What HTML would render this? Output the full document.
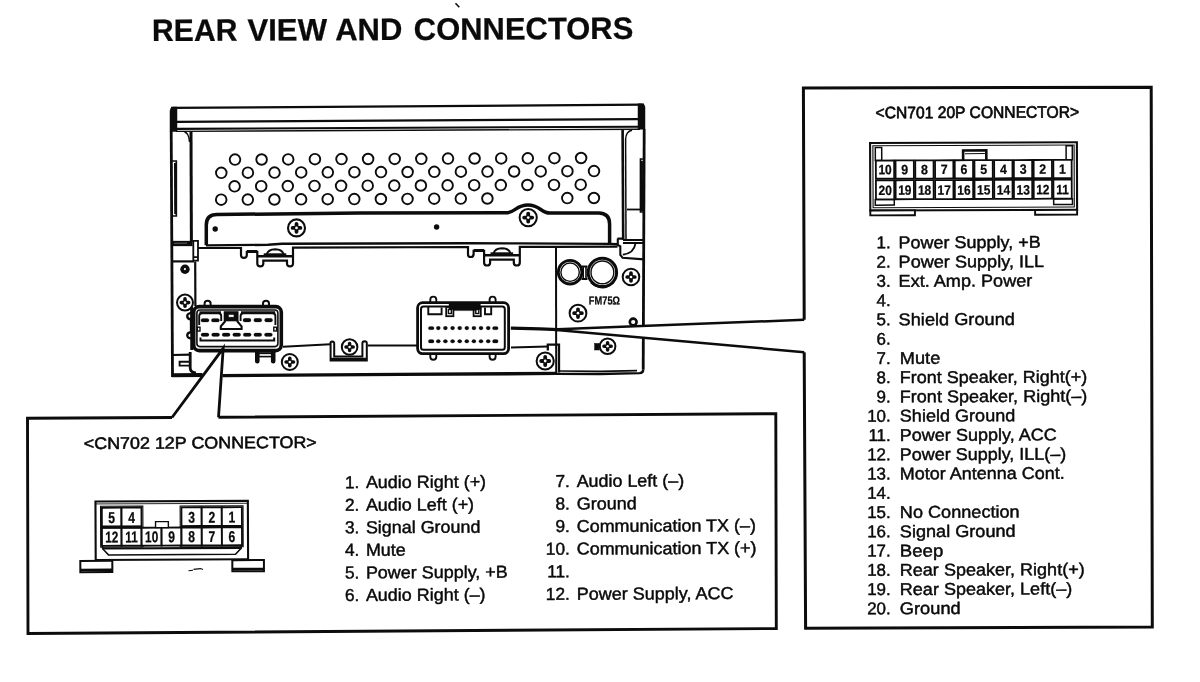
<!DOCTYPE html>
<html lang="en"><head><meta charset="utf-8"><title>Rear view and connectors</title>
<style>
html,body{margin:0;padding:0;background:#fff;}
body{width:1200px;height:682px;overflow:hidden;}
svg{display:block;will-change:transform;font-family:"Liberation Sans",sans-serif;}
svg text{fill:#0a0a0a;stroke:#0a0a0a;stroke-width:0.45px;stroke-linejoin:round;}
svg text.b{stroke-width:0.25px;}
</style></head><body>
<svg width="1200" height="682" viewBox="0 0 1200 682" stroke="#0c0c0c" fill="none" stroke-linecap="butt">
<rect x="0" y="0" width="1200" height="682" fill="#fff" stroke="none"/>
<text x="152.1" y="41.1" font-size="31" font-weight="bold" text-anchor="start" textLength="85.3" lengthAdjust="spacingAndGlyphs" class="b" transform="rotate(-0.27 152.1 41.1)" >REAR</text>
<text x="247.4" y="40.7" font-size="31" font-weight="bold" text-anchor="start" textLength="79.7" lengthAdjust="spacingAndGlyphs" class="b" transform="rotate(-0.27 247.4 40.7)" >VIEW</text>
<text x="335.2" y="40.3" font-size="31" font-weight="bold" text-anchor="start" textLength="67.3" lengthAdjust="spacingAndGlyphs" class="b" transform="rotate(-0.27 335.2 40.3)" >AND</text>
<text x="413.8" y="39.9" font-size="31" font-weight="bold" text-anchor="start" textLength="219.5" lengthAdjust="spacingAndGlyphs" class="b" transform="rotate(-0.27 413.8 39.9)" >CONNECTORS</text>
<line x1="455.5" y1="3.3" x2="459.3" y2="7.3" stroke-width="1.6" />
<g id="unit">
<line x1="171.0" y1="107.9" x2="644.0" y2="104.6" stroke-width="2.3" />
<line x1="176.0" y1="121.8" x2="638.0" y2="119.1" stroke-width="2.3" />
<line x1="176.0" y1="128.9" x2="638.0" y2="126.7" stroke-width="2.1" />
<line x1="176.0" y1="131.4" x2="640.0" y2="129.2" stroke-width="1.4" />
<path d="M170,131.5V111Q170,107.4 173.5,107H177V131.5Z" stroke-width="0.5" fill="#0c0c0c" />
<path d="M645,129.3V107.5Q645,104 641.5,103.8H638V129.3Z" stroke-width="0.5" fill="#0c0c0c" />
<line x1="171.2" y1="131.0" x2="172.5" y2="377.0" stroke-width="2.8" />
<line x1="644.2" y1="129.0" x2="643.2" y2="369.6" stroke-width="2.8" />
<line x1="191.0" y1="131.5" x2="191.4" y2="242.0" stroke-width="3.0" />
<path d="M184.5,132Q189,133 189.5,142" stroke-width="1.4" fill="none" />
<path d="M172,161H176.3V216H172" stroke-width="1.7" fill="none" />
<line x1="175.2" y1="163.0" x2="175.4" y2="214.0" stroke-width="2.4" />
<line x1="622.6" y1="129.5" x2="623.2" y2="240.0" stroke-width="2.6" />
<line x1="625.6" y1="139.0" x2="626.0" y2="240.0" stroke-width="1.5" />
<path d="M625.6,139Q626,131.5 632,130.3" stroke-width="1.4" fill="none" />
<path d="M644,159H640.5V212H644" stroke-width="1.7" fill="none" />
<line x1="641.7" y1="161.0" x2="641.9" y2="211.0" stroke-width="2.4" />
<line x1="627.0" y1="209.5" x2="640.5" y2="209.5" stroke-width="1.8" />
<circle cx="235.0" cy="159.6" r="5.3" stroke-width="1.9" fill="none"/>
<circle cx="261.6" cy="159.5" r="5.3" stroke-width="1.9" fill="none"/>
<circle cx="288.2" cy="159.4" r="5.3" stroke-width="1.9" fill="none"/>
<circle cx="314.9" cy="159.2" r="5.3" stroke-width="1.9" fill="none"/>
<circle cx="341.5" cy="159.1" r="5.3" stroke-width="1.9" fill="none"/>
<circle cx="368.1" cy="159.0" r="5.3" stroke-width="1.9" fill="none"/>
<circle cx="394.7" cy="158.9" r="5.3" stroke-width="1.9" fill="none"/>
<circle cx="421.3" cy="158.8" r="5.3" stroke-width="1.9" fill="none"/>
<circle cx="448.0" cy="158.6" r="5.3" stroke-width="1.9" fill="none"/>
<circle cx="474.6" cy="158.5" r="5.3" stroke-width="1.9" fill="none"/>
<circle cx="501.2" cy="158.4" r="5.3" stroke-width="1.9" fill="none"/>
<circle cx="527.8" cy="158.3" r="5.3" stroke-width="1.9" fill="none"/>
<circle cx="554.4" cy="158.2" r="5.3" stroke-width="1.9" fill="none"/>
<circle cx="581.1" cy="158.0" r="5.3" stroke-width="1.9" fill="none"/>
<circle cx="221.3" cy="172.8" r="5.3" stroke-width="1.9" fill="none"/>
<circle cx="247.9" cy="172.7" r="5.3" stroke-width="1.9" fill="none"/>
<circle cx="274.5" cy="172.6" r="5.3" stroke-width="1.9" fill="none"/>
<circle cx="301.2" cy="172.4" r="5.3" stroke-width="1.9" fill="none"/>
<circle cx="327.8" cy="172.3" r="5.3" stroke-width="1.9" fill="none"/>
<circle cx="354.4" cy="172.2" r="5.3" stroke-width="1.9" fill="none"/>
<circle cx="381.0" cy="172.1" r="5.3" stroke-width="1.9" fill="none"/>
<circle cx="407.6" cy="172.0" r="5.3" stroke-width="1.9" fill="none"/>
<circle cx="434.3" cy="171.8" r="5.3" stroke-width="1.9" fill="none"/>
<circle cx="460.9" cy="171.7" r="5.3" stroke-width="1.9" fill="none"/>
<circle cx="487.5" cy="171.6" r="5.3" stroke-width="1.9" fill="none"/>
<circle cx="514.1" cy="171.5" r="5.3" stroke-width="1.9" fill="none"/>
<circle cx="540.7" cy="171.4" r="5.3" stroke-width="1.9" fill="none"/>
<circle cx="567.4" cy="171.2" r="5.3" stroke-width="1.9" fill="none"/>
<circle cx="594.0" cy="171.1" r="5.3" stroke-width="1.9" fill="none"/>
<circle cx="234.6" cy="186.3" r="5.3" stroke-width="1.9" fill="none"/>
<circle cx="261.2" cy="186.2" r="5.3" stroke-width="1.9" fill="none"/>
<circle cx="287.8" cy="186.1" r="5.3" stroke-width="1.9" fill="none"/>
<circle cx="314.5" cy="185.9" r="5.3" stroke-width="1.9" fill="none"/>
<circle cx="341.1" cy="185.8" r="5.3" stroke-width="1.9" fill="none"/>
<circle cx="367.7" cy="185.7" r="5.3" stroke-width="1.9" fill="none"/>
<circle cx="394.3" cy="185.6" r="5.3" stroke-width="1.9" fill="none"/>
<circle cx="420.9" cy="185.5" r="5.3" stroke-width="1.9" fill="none"/>
<circle cx="447.6" cy="185.3" r="5.3" stroke-width="1.9" fill="none"/>
<circle cx="474.2" cy="185.2" r="5.3" stroke-width="1.9" fill="none"/>
<circle cx="500.8" cy="185.1" r="5.3" stroke-width="1.9" fill="none"/>
<circle cx="527.4" cy="185.0" r="5.3" stroke-width="1.9" fill="none"/>
<circle cx="554.0" cy="184.9" r="5.3" stroke-width="1.9" fill="none"/>
<circle cx="580.7" cy="184.7" r="5.3" stroke-width="1.9" fill="none"/>
<circle cx="221.2" cy="199.7" r="5.3" stroke-width="1.9" fill="none"/>
<circle cx="247.8" cy="199.6" r="5.3" stroke-width="1.9" fill="none"/>
<circle cx="274.4" cy="199.5" r="5.3" stroke-width="1.9" fill="none"/>
<circle cx="301.1" cy="199.3" r="5.3" stroke-width="1.9" fill="none"/>
<circle cx="327.7" cy="199.2" r="5.3" stroke-width="1.9" fill="none"/>
<circle cx="354.3" cy="199.1" r="5.3" stroke-width="1.9" fill="none"/>
<circle cx="380.9" cy="199.0" r="5.3" stroke-width="1.9" fill="none"/>
<circle cx="407.5" cy="198.9" r="5.3" stroke-width="1.9" fill="none"/>
<circle cx="434.2" cy="198.7" r="5.3" stroke-width="1.9" fill="none"/>
<circle cx="460.8" cy="198.6" r="5.3" stroke-width="1.9" fill="none"/>
<circle cx="487.4" cy="198.5" r="5.3" stroke-width="1.9" fill="none"/>
<circle cx="567.3" cy="198.1" r="5.3" stroke-width="1.9" fill="none"/>
<circle cx="593.9" cy="198.0" r="5.3" stroke-width="1.9" fill="none"/>
<path d="M206.3,245.2V225Q206.3,214.6 217,214.5L360,213.1L506,212.8C515,212.8 516,205 528,205C540,205 541,213.1 550,213.1L599,212.9Q609.5,213.1 609.6,224V243.5" stroke-width="3.5" fill="none" />
<path d="M206,245.4L268,244.8L282,243.8L468,243.3L519,243.4L609.6,243.9L618,244.2" stroke-width="2.4" fill="none" />
<path d="M198,248H241V255.29999999999998Q241.1,257.9 243.9,257.9Q246.7,257.9 246.8,255.29999999999998V251.8H257.3V263.79999999999995Q257.4,266.4 260.3,266.4Q263.2,266.4 263.3,263.79999999999995V260.6H287V263.79999999999995Q287.1,266.4 290,266.4Q292.9,266.4 293,263.79999999999995V247.7L468,247V254.4Q467.90000000000003,257.0 470.7,257.0Q473.5,257.0 473.6,254.4V250.9H484.1V262.9Q484.2,265.5 487.1,265.5Q490.0,265.5 490.1,262.9V259.70000000000005H513.8V262.9Q513.9,265.5 516.8,265.5Q519.7,265.5 519.8,262.9V246.8L556,246.9L617.5,246.6" stroke-width="2.2" fill="none" />
<line x1="257.3" y1="256.2" x2="293.0" y2="256.2" stroke-width="2.6" />
<line x1="263.7" y1="254.3" x2="286.3" y2="254.3" stroke-width="2.0" />
<path d="M266.7,254.4Q268,249.4 275.2,249.2Q282.4,249.4 283.7,254.4" stroke-width="2.0" fill="none" />
<line x1="247.0" y1="251.4" x2="257.2" y2="251.4" stroke-width="2.8" />
<line x1="484.1" y1="255.2" x2="519.8" y2="255.2" stroke-width="2.6" />
<line x1="490.5" y1="253.3" x2="513.1" y2="253.3" stroke-width="2.0" />
<path d="M493.5,253.4Q494.8,248.4 502.0,248.2Q509.2,248.4 510.5,253.4" stroke-width="2.0" fill="none" />
<line x1="473.8" y1="250.4" x2="484.0" y2="250.4" stroke-width="2.8" />
<circle cx="215.2" cy="229.0" r="2.7" stroke-width="0" fill="#0c0c0c"/>
<circle cx="436.6" cy="227.0" r="2.7" stroke-width="0" fill="#0c0c0c"/>
<circle cx="296.5" cy="227.9" r="8.5" stroke-width="2.1" fill="#fff"/>
<path d="M292.6,227.9H300.4M296.5,224.0V231.8" stroke-width="3.8" fill="none" stroke-linecap="round"/>
<circle cx="296.5" cy="227.9" r="1.36" stroke-width="0" fill="#fff"/>
<circle cx="528.2" cy="217.6" r="8.6" stroke-width="2.0" fill="#fff"/>
<path d="M524.2,217.6H532.2M528.2,213.6V221.6" stroke-width="3.84" fill="none" stroke-linecap="round"/>
<circle cx="528.2" cy="217.6" r="1.376" stroke-width="0" fill="#fff"/>
<path d="M171.5,241H192.4V246H171.5Z" stroke-width="0.3" fill="#0c0c0c" />
<line x1="174.0" y1="243.3" x2="187.0" y2="243.1" stroke-width="0.5" stroke="#bbb"/>
<path d="M193.3,257.4V240.8H198V260.6H193.3V257.2H197.6" stroke-width="1.8" fill="none" />
<line x1="172.0" y1="261.4" x2="194.0" y2="261.4" stroke-width="2.2" />
<line x1="195.2" y1="261.5" x2="195.4" y2="306.0" stroke-width="2.2" />
<circle cx="185.0" cy="269.3" r="4.7" stroke-width="0" fill="#0c0c0c"/>
<circle cx="184.9" cy="269.1" r="1.1" stroke-width="0" fill="#fff"/>
<circle cx="185.0" cy="302.6" r="8.0" stroke-width="2.0" fill="#fff"/>
<path d="M181.3,302.6H188.7M185.0,298.9V306.3" stroke-width="3.6" fill="none" stroke-linecap="round"/>
<circle cx="185.0" cy="302.6" r="1.28" stroke-width="0" fill="#fff"/>
<line x1="172.3" y1="355.0" x2="191.0" y2="354.6" stroke-width="2.2" />
<path d="M190.2,352V368Q190.4,372.5 196,373" stroke-width="2.8" fill="none" />
<path d="M190,361.7H179.6V365.6H190" stroke-width="1.9" fill="none" />
<line x1="283.0" y1="346.8" x2="330.5" y2="344.2" stroke-width="2.0" />
<line x1="367.5" y1="345.4" x2="417.0" y2="345.6" stroke-width="2.0" />
<line x1="511.0" y1="347.6" x2="548.0" y2="346.4" stroke-width="2.0" />
<line x1="556.0" y1="247.0" x2="556.2" y2="373.0" stroke-width="2.0" />
<path d="M617.5,238.6H623M617.8,238.6V245L620.3,246.3V254.8L622.6,257.8L644,259.4" stroke-width="2.1" fill="none" />
<path d="M623,240H644M623,243H644" stroke-width="2.1" fill="none" />
<path d="M635.5,243.4Q634,253.5 622.8,254.6" stroke-width="1.8" fill="none" />
<path d="M172,375.2L202.5,375.1" stroke-width="4.0" fill="none" />
<path d="M222.5,375.6L400,374.4L557,373.4" stroke-width="3.4" fill="none" />
<path d="M557,373.9L600,374L639.6,373.2Q643.2,373 643.3,369.4" stroke-width="2.3" fill="none" />
<path d="M559,371L600,371.4L637,370.6" stroke-width="1.7" fill="none" />
<circle cx="570.1" cy="272.2" r="11.8" stroke-width="2.8" fill="#fff"/>
<circle cx="570.1" cy="272.2" r="9.2" stroke-width="1.4" fill="none"/>
<path d="M581.5,266.5H587.5M581.5,279H587.5" stroke-width="2.2" fill="none" />
<path d="M583.2,266.5V279M586,266.5V279" stroke-width="1.6" fill="none" />
<circle cx="602.4" cy="272.4" r="14.2" stroke-width="3.0" fill="#fff"/>
<circle cx="602.4" cy="272.4" r="11.4" stroke-width="1.4" fill="none"/>
<path d="M591,282.6Q602.4,292.6 614,282" stroke-width="2.0" fill="none" />
<text x="588.8" y="304.6" font-size="11.6" font-weight="bold" text-anchor="start" textLength="31.2" lengthAdjust="spacingAndGlyphs" class="b" transform="rotate(-0.3 588.8 304.6)" >FM75Ω</text>
<circle cx="631.0" cy="277.0" r="8.3" stroke-width="2.0" fill="#fff"/>
<path d="M627.2,277.0H634.8M631.0,273.2V280.8" stroke-width="3.72" fill="none" stroke-linecap="round"/>
<circle cx="631.0" cy="277.0" r="1.328" stroke-width="0" fill="#fff"/>
<circle cx="578.0" cy="313.2" r="8.4" stroke-width="2.0" fill="#fff"/>
<path d="M574.1,313.2H581.9M578.0,309.3V317.1" stroke-width="3.76" fill="none" stroke-linecap="round"/>
<circle cx="578.0" cy="313.2" r="1.344" stroke-width="0" fill="#fff"/>
<circle cx="633.2" cy="322.0" r="3.4" stroke-width="2.6" fill="none"/>
<rect x="594.6" y="343.4" width="4.6" height="6.6" rx="0" stroke-width="0.5" fill="#0c0c0c"/>
<circle cx="607.6" cy="346.3" r="7.8" stroke-width="2.0" fill="#fff"/>
<path d="M604.0,346.3H611.2M607.6,342.7V349.9" stroke-width="3.52" fill="none" stroke-linecap="round"/>
<circle cx="607.6" cy="346.3" r="1.248" stroke-width="0" fill="#fff"/>
<path d="M547.8,350.5V344.6H559V372.5" stroke-width="2.3" fill="none" />
<circle cx="545.2" cy="361.0" r="8.6" stroke-width="2.0" fill="#fff"/>
<path d="M541.2,361.0H549.2M545.2,357.0V365.0" stroke-width="3.84" fill="none" stroke-linecap="round"/>
<circle cx="545.2" cy="361.0" r="1.376" stroke-width="0" fill="#fff"/>
<circle cx="289.8" cy="362.0" r="8.0" stroke-width="2.0" fill="#fff"/>
<path d="M286.1,362.0H293.5M289.8,358.3V365.7" stroke-width="3.6" fill="none" stroke-linecap="round"/>
<circle cx="289.8" cy="362.0" r="1.28" stroke-width="0" fill="#fff"/>
<path d="M330.6,343.6Q330,341.6 332.3,341.4Q334.4,341.6 334.2,343.6V356.6H362.4V343.4Q362.4,341.2 364.6,341.2Q366.9,341.3 366.8,343.4V360.4H330.6Z" stroke-width="2.0" fill="none" />
<line x1="331.0" y1="359.2" x2="366.5" y2="359.2" stroke-width="3.0" />
<circle cx="349.6" cy="347.0" r="7.8" stroke-width="2.0" fill="#fff"/>
<path d="M346.0,347.0H353.2M349.6,343.4V350.6" stroke-width="3.52" fill="none" stroke-linecap="round"/>
<circle cx="349.6" cy="347.0" r="1.248" stroke-width="0" fill="#fff"/>
<path d="M204.6,306.5V303.5Q204.6,300.8 207.6,300.8Q210.6,300.8 210.6,303.5V306.5" stroke-width="2.0" fill="none" />
<path d="M263,306.5V303.5Q263,300.8 266,300.8Q269,300.8 269,303.5V306.5" stroke-width="2.0" fill="none" />
<path d="M193,312.6Q187.2,313 187.2,316Q187.2,319.2 191,319.4V332.2Q187.2,332.6 187.2,335.4Q187.4,338.6 193,338.8" stroke-width="2.3" fill="none" />
<line x1="191.6" y1="307.0" x2="191.8" y2="350.0" stroke-width="3.0" />
<rect x="193.7" y="306.6" width="87.6" height="44.0" rx="5.5" stroke-width="3.6" fill="#fff"/>
<rect x="196.9" y="310.0" width="81.0" height="36.6" rx="3" stroke-width="1.6" fill="none"/>
<path d="M199.2,325V316Q199.2,313.2 202.2,313.2H218.4Q221.2,313.2 221.2,316V321" stroke-width="1.9" fill="none" />
<path d="M240.6,321V316Q240.6,313.2 243.6,313.2H272.4Q275.4,313.2 275.4,316V325" stroke-width="1.9" fill="none" />
<line x1="199.5" y1="312.4" x2="221.0" y2="312.4" stroke-width="2.2" />
<line x1="241.0" y1="312.4" x2="275.2" y2="312.4" stroke-width="2.2" />
<path d="M224,311.5H238.2V321H224Z" stroke-width="0.6" fill="#0c0c0c" />
<rect x="228.4" y="314.4" width="5.6" height="2.8" rx="0" stroke-width="0.6" fill="#fff"/>
<path d="M225.4,321L220.8,326.4V329H241.6V326.4L237,321" stroke-width="2.1" fill="none" />
<rect x="201.0" y="318.4" width="8.0" height="3.7" rx="1.7" stroke-width="0.2" fill="#0c0c0c"/>
<rect x="211.4" y="318.4" width="8.0" height="3.7" rx="1.7" stroke-width="0.2" fill="#0c0c0c"/>
<rect x="243.0" y="318.3" width="8.0" height="3.7" rx="1.7" stroke-width="0.2" fill="#0c0c0c"/>
<rect x="253.8" y="318.3" width="8.0" height="3.7" rx="1.7" stroke-width="0.2" fill="#0c0c0c"/>
<rect x="264.6" y="318.3" width="8.0" height="3.7" rx="1.7" stroke-width="0.2" fill="#0c0c0c"/>
<rect x="201.0" y="332.9" width="8.0" height="3.5" rx="1.7" stroke-width="0.2" fill="#0c0c0c"/>
<rect x="211.6" y="332.9" width="8.0" height="3.5" rx="1.7" stroke-width="0.2" fill="#0c0c0c"/>
<rect x="222.1" y="332.9" width="8.0" height="3.5" rx="1.7" stroke-width="0.2" fill="#0c0c0c"/>
<rect x="232.7" y="332.9" width="8.0" height="3.5" rx="1.7" stroke-width="0.2" fill="#0c0c0c"/>
<rect x="243.2" y="332.9" width="8.0" height="3.5" rx="1.7" stroke-width="0.2" fill="#0c0c0c"/>
<rect x="253.8" y="332.9" width="8.0" height="3.5" rx="1.7" stroke-width="0.2" fill="#0c0c0c"/>
<rect x="264.4" y="332.9" width="8.0" height="3.5" rx="1.7" stroke-width="0.2" fill="#0c0c0c"/>
<rect x="197.2" y="327.2" width="2.8" height="3.8" rx="0" stroke-width="1.4" fill="none"/>
<rect x="273.8" y="327.2" width="2.8" height="3.8" rx="0" stroke-width="1.4" fill="none"/>
<path d="M200.5,337.6V340.5H274.2V337.6" stroke-width="2.0" fill="none" />
<path d="M257.3,351.5V361.2M273.2,351.5V361.2" stroke-width="4.6" fill="none" stroke-linecap="round"/>
<path d="M259,353.2H271.4" stroke-width="1.9" fill="none" />
<path d="M259,356.6H271.4" stroke-width="1.6" fill="none" />
<path d="M430.3,303V299.6Q430.3,296.6 433.3,296.6Q436.3,296.6 436.3,299.6V303" stroke-width="1.9" fill="none" />
<path d="M430.3,353V356.8Q430.3,359.8 433.3,359.8Q436.3,359.8 436.3,356.8V353" stroke-width="1.9" fill="none" />
<path d="M489.6,303V299.6Q489.6,296.6 492.6,296.6Q495.6,296.6 495.6,299.6V303" stroke-width="1.9" fill="none" />
<path d="M489.6,353V356.8Q489.6,359.8 492.6,359.8Q495.6,359.8 495.6,356.8V353" stroke-width="1.9" fill="none" />
<rect x="417.6" y="302.7" width="91.0" height="50.9" rx="5" stroke-width="2.8" fill="#fff"/>
<rect x="421.0" y="306.6" width="83.8" height="43.2" rx="2.5" stroke-width="2.0" fill="none"/>
<path d="M428.3,307V314.2H441.6V307.4" stroke-width="1.9" fill="none" />
<path d="M485,307.4V314.2H491.2V307" stroke-width="1.9" fill="none" />
<rect x="446.2" y="307.0" width="7.2" height="9.2" rx="0" stroke-width="1.8" fill="none"/>
<rect x="473.6" y="307.0" width="7.2" height="9.2" rx="0" stroke-width="1.8" fill="none"/>
<rect x="448.4" y="309.5" width="3.0" height="4.0" rx="0" stroke-width="1.4" fill="none"/>
<rect x="475.8" y="309.5" width="3.0" height="4.0" rx="0" stroke-width="1.4" fill="none"/>
<path d="M449,303H480.4V309.4H476V310.6H453.4V309.4H449Z" stroke-width="0.4" fill="#0c0c0c" />
<rect x="428.4" y="326.4" width="5.6" height="3.4" rx="1.5" stroke-width="0.2" fill="#0c0c0c"/>
<rect x="436.2" y="326.3" width="4.2" height="3.6" rx="1.8" stroke-width="0.2" fill="#0c0c0c"/>
<rect x="443.3" y="326.3" width="4.2" height="3.6" rx="1.8" stroke-width="0.2" fill="#0c0c0c"/>
<rect x="450.5" y="326.3" width="4.2" height="3.6" rx="1.8" stroke-width="0.2" fill="#0c0c0c"/>
<rect x="457.6" y="326.3" width="4.2" height="3.6" rx="1.8" stroke-width="0.2" fill="#0c0c0c"/>
<rect x="464.7" y="326.3" width="4.2" height="3.6" rx="1.8" stroke-width="0.2" fill="#0c0c0c"/>
<rect x="471.8" y="326.3" width="4.2" height="3.6" rx="1.8" stroke-width="0.2" fill="#0c0c0c"/>
<rect x="478.9" y="326.3" width="4.2" height="3.6" rx="1.8" stroke-width="0.2" fill="#0c0c0c"/>
<rect x="486.1" y="326.3" width="4.2" height="3.6" rx="1.8" stroke-width="0.2" fill="#0c0c0c"/>
<rect x="492.5" y="326.4" width="5.6" height="3.4" rx="1.5" stroke-width="0.2" fill="#0c0c0c"/>
<rect x="428.4" y="339.6" width="5.6" height="3.4" rx="1.5" stroke-width="0.2" fill="#0c0c0c"/>
<rect x="436.2" y="339.5" width="4.2" height="3.6" rx="1.8" stroke-width="0.2" fill="#0c0c0c"/>
<rect x="443.3" y="339.5" width="4.2" height="3.6" rx="1.8" stroke-width="0.2" fill="#0c0c0c"/>
<rect x="450.5" y="339.5" width="4.2" height="3.6" rx="1.8" stroke-width="0.2" fill="#0c0c0c"/>
<rect x="457.6" y="339.5" width="4.2" height="3.6" rx="1.8" stroke-width="0.2" fill="#0c0c0c"/>
<rect x="464.7" y="339.5" width="4.2" height="3.6" rx="1.8" stroke-width="0.2" fill="#0c0c0c"/>
<rect x="471.8" y="339.5" width="4.2" height="3.6" rx="1.8" stroke-width="0.2" fill="#0c0c0c"/>
<rect x="478.9" y="339.5" width="4.2" height="3.6" rx="1.8" stroke-width="0.2" fill="#0c0c0c"/>
<rect x="486.1" y="339.5" width="4.2" height="3.6" rx="1.8" stroke-width="0.2" fill="#0c0c0c"/>
<rect x="492.5" y="339.6" width="5.6" height="3.4" rx="1.5" stroke-width="0.2" fill="#0c0c0c"/>
</g>
<path d="M172.0,417.5L223.2,348.3L218.5,417.4" stroke-width="2.8" fill="#fff" stroke-linejoin="miter"/>
<path d="M804.2,319.8L551,329.6L804.2,352.2" stroke-width="2.5" fill="#fff" stroke-linejoin="miter"/>
<path d="M510.8,328.1L540,328.9L558,329.7" stroke-width="3.3" fill="none" />
<path d="M172.0,417.5L27.5,418.3L28,633.5L776.3,628.5L775.8,413.6L218.5,417.3" stroke-width="2.9" fill="none" stroke-linejoin="miter"/>
<text x="83.8" y="449.0" font-size="16.6" font-weight="normal" text-anchor="start" textLength="233.0" lengthAdjust="spacingAndGlyphs" transform="rotate(-0.27 83.8 449.0)" style="stroke-width:0.55px">&lt;CN702 12P CONNECTOR&gt;</text>
<g transform="rotate(-0.25 172 535)">
<rect x="95.6" y="501.2" width="152.4" height="58.4" rx="0" stroke-width="2.1" fill="#fff"/>
<line x1="95.6" y1="503.6" x2="248.0" y2="503.6" stroke-width="0.9" />
<rect x="80.2" y="560.6" width="32.0" height="11.2" rx="0" stroke-width="2.0" fill="#fff"/>
<rect x="232.2" y="560.4" width="31.6" height="11.2" rx="0" stroke-width="2.0" fill="#fff"/>
<line x1="80.2" y1="569.6" x2="112.2" y2="569.6" stroke-width="2.6" />
<line x1="232.2" y1="569.4" x2="263.8" y2="569.4" stroke-width="2.6" />
<rect x="100.6" y="506.0" width="42.4" height="41.0" rx="0" stroke-width="1.0" fill="none"/>
<rect x="180.2" y="506.0" width="63.0" height="41.0" rx="0" stroke-width="1.0" fill="none"/>
<rect x="101.9" y="507.4" width="19.7" height="18.8" rx="0" stroke-width="1.9" fill="#fff"/>
<text x="0" y="522.8" font-size="15.6" font-weight="bold" class="b" text-anchor="middle" transform="translate(111.8 0) scale(0.78 1)">5</text>
<rect x="121.6" y="507.4" width="20.0" height="18.8" rx="0" stroke-width="1.9" fill="#fff"/>
<text x="0" y="522.8" font-size="15.6" font-weight="bold" class="b" text-anchor="middle" transform="translate(131.6 0) scale(0.78 1)">4</text>
<rect x="181.5" y="507.4" width="20.3" height="18.8" rx="0" stroke-width="1.9" fill="#fff"/>
<text x="0" y="522.8" font-size="15.6" font-weight="bold" class="b" text-anchor="middle" transform="translate(191.7 0) scale(0.78 1)">3</text>
<rect x="201.8" y="507.4" width="20.1" height="18.8" rx="0" stroke-width="1.9" fill="#fff"/>
<text x="0" y="522.8" font-size="15.6" font-weight="bold" class="b" text-anchor="middle" transform="translate(211.9 0) scale(0.78 1)">2</text>
<rect x="221.9" y="507.4" width="20.1" height="18.8" rx="0" stroke-width="1.9" fill="#fff"/>
<text x="0" y="522.8" font-size="15.6" font-weight="bold" class="b" text-anchor="middle" transform="translate(231.9 0) scale(0.78 1)">1</text>
<rect x="101.9" y="527.6" width="19.7" height="18.0" rx="0" stroke-width="1.9" fill="#fff"/>
<text x="0" y="542.2" font-size="15.6" font-weight="bold" class="b" text-anchor="middle" transform="translate(111.8 0) scale(0.76 1)">12</text>
<rect x="121.6" y="527.6" width="20.0" height="18.0" rx="0" stroke-width="1.9" fill="#fff"/>
<text x="0" y="542.2" font-size="15.6" font-weight="bold" class="b" text-anchor="middle" transform="translate(131.6 0) scale(0.76 1)">11</text>
<rect x="141.6" y="527.6" width="20.0" height="18.0" rx="0" stroke-width="1.9" fill="#fff"/>
<text x="0" y="542.2" font-size="15.6" font-weight="bold" class="b" text-anchor="middle" transform="translate(151.6 0) scale(0.76 1)">10</text>
<rect x="161.6" y="527.6" width="19.9" height="18.0" rx="0" stroke-width="1.9" fill="#fff"/>
<text x="0" y="542.2" font-size="15.6" font-weight="bold" class="b" text-anchor="middle" transform="translate(171.6 0) scale(0.78 1)">9</text>
<rect x="181.5" y="527.6" width="20.3" height="18.0" rx="0" stroke-width="1.9" fill="#fff"/>
<text x="0" y="542.2" font-size="15.6" font-weight="bold" class="b" text-anchor="middle" transform="translate(191.7 0) scale(0.78 1)">8</text>
<rect x="201.8" y="527.6" width="20.1" height="18.0" rx="0" stroke-width="1.9" fill="#fff"/>
<text x="0" y="542.2" font-size="15.6" font-weight="bold" class="b" text-anchor="middle" transform="translate(211.9 0) scale(0.78 1)">7</text>
<rect x="221.9" y="527.6" width="20.1" height="18.0" rx="0" stroke-width="1.9" fill="#fff"/>
<text x="0" y="542.2" font-size="15.6" font-weight="bold" class="b" text-anchor="middle" transform="translate(231.9 0) scale(0.78 1)">6</text>
<line x1="101.9" y1="526.9" x2="141.6" y2="526.9" stroke-width="2.4" />
<line x1="181.5" y1="526.9" x2="242.0" y2="526.9" stroke-width="2.4" />
<rect x="155.6" y="521.6" width="12.8" height="6.0" rx="0" stroke-width="1.4" fill="#fff"/>
<path d="M102.6,545.6V548.4L108.4,554.6H235.4L241.2,548.4V545.6" stroke-width="1.5" fill="none" />
<line x1="103.0" y1="548.2" x2="241.0" y2="548.2" stroke-width="2.2" />
</g>
<path d="M188.5,570.8L193,570.2M193.5,569.4L200.5,568.6L203,569.4" stroke-width="1.1" fill="none" />
<text x="359.4" y="488.1" font-size="17.3" font-weight="normal" text-anchor="end" transform="rotate(-0.27 359.4 488.1)" >1.</text>
<text x="365.9" y="488.1" font-size="17.3" font-weight="normal" text-anchor="start" textLength="120.2" lengthAdjust="spacingAndGlyphs" transform="rotate(-0.27 365.9 488.1)" >Audio Right (+)</text>
<text x="359.4" y="510.7" font-size="17.3" font-weight="normal" text-anchor="end" transform="rotate(-0.27 359.4 510.7)" >2.</text>
<text x="365.9" y="510.7" font-size="17.3" font-weight="normal" text-anchor="start" textLength="108.2" lengthAdjust="spacingAndGlyphs" transform="rotate(-0.27 365.9 510.7)" >Audio Left (+)</text>
<text x="359.4" y="533.2" font-size="17.3" font-weight="normal" text-anchor="end" transform="rotate(-0.27 359.4 533.2)" >3.</text>
<text x="365.9" y="533.2" font-size="17.3" font-weight="normal" text-anchor="start" textLength="114.5" lengthAdjust="spacingAndGlyphs" transform="rotate(-0.27 365.9 533.2)" >Signal Ground</text>
<text x="359.4" y="555.8" font-size="17.3" font-weight="normal" text-anchor="end" transform="rotate(-0.27 359.4 555.8)" >4.</text>
<text x="365.9" y="555.8" font-size="17.3" font-weight="normal" text-anchor="start" textLength="39.9" lengthAdjust="spacingAndGlyphs" transform="rotate(-0.27 365.9 555.8)" >Mute</text>
<text x="359.4" y="578.4" font-size="17.3" font-weight="normal" text-anchor="end" transform="rotate(-0.27 359.4 578.4)" >5.</text>
<text x="365.9" y="578.4" font-size="17.3" font-weight="normal" text-anchor="start" textLength="141.9" lengthAdjust="spacingAndGlyphs" transform="rotate(-0.27 365.9 578.4)" >Power Supply, +B</text>
<text x="359.4" y="601.0" font-size="17.3" font-weight="normal" text-anchor="end" transform="rotate(-0.27 359.4 601.0)" >6.</text>
<text x="365.9" y="600.9" font-size="17.3" font-weight="normal" text-anchor="start" textLength="119.7" lengthAdjust="spacingAndGlyphs" transform="rotate(-0.27 365.9 600.9)" >Audio Right (–)</text>
<text x="569.9" y="486.9" font-size="17.3" font-weight="normal" text-anchor="end" transform="rotate(-0.27 569.9 486.9)" >7.</text>
<text x="576.7" y="486.9" font-size="17.3" font-weight="normal" text-anchor="start" textLength="107.4" lengthAdjust="spacingAndGlyphs" transform="rotate(-0.27 576.7 486.9)" >Audio Left (–)</text>
<text x="569.9" y="509.5" font-size="17.3" font-weight="normal" text-anchor="end" transform="rotate(-0.27 569.9 509.5)" >8.</text>
<text x="576.7" y="509.5" font-size="17.3" font-weight="normal" text-anchor="start" textLength="60.1" lengthAdjust="spacingAndGlyphs" transform="rotate(-0.27 576.7 509.5)" >Ground</text>
<text x="569.9" y="532.0" font-size="17.3" font-weight="normal" text-anchor="end" transform="rotate(-0.27 569.9 532.0)" >9.</text>
<text x="576.7" y="532.0" font-size="17.3" font-weight="normal" text-anchor="start" textLength="179.2" lengthAdjust="spacingAndGlyphs" transform="rotate(-0.27 576.7 532.0)" >Communication TX (–)</text>
<text x="569.9" y="554.6" font-size="17.3" font-weight="normal" text-anchor="end" transform="rotate(-0.27 569.9 554.6)" >10.</text>
<text x="576.7" y="554.6" font-size="17.3" font-weight="normal" text-anchor="start" textLength="179.9" lengthAdjust="spacingAndGlyphs" transform="rotate(-0.27 576.7 554.6)" >Communication TX (+)</text>
<text x="569.9" y="577.2" font-size="17.3" font-weight="normal" text-anchor="end" transform="rotate(-0.27 569.9 577.2)" >11.</text>
<text x="569.9" y="599.8" font-size="17.3" font-weight="normal" text-anchor="end" transform="rotate(-0.27 569.9 599.8)" >12.</text>
<text x="576.7" y="599.8" font-size="17.3" font-weight="normal" text-anchor="start" textLength="156.8" lengthAdjust="spacingAndGlyphs" transform="rotate(-0.27 576.7 599.8)" >Power Supply, ACC</text>
<path d="M804.2,319.8L803.4,88.1L1151.2,87.2L1152.3,627.1L805.6,628.3L804.2,352.2" stroke-width="3.0" fill="none" stroke-linejoin="miter"/>
<text x="875.6" y="118.3" font-size="16.6" font-weight="normal" text-anchor="start" textLength="203.6" lengthAdjust="spacingAndGlyphs" transform="rotate(-0.2 875.6 118.3)" style="stroke-width:0.7px">&lt;CN701 20P CONNECTOR&gt;</text>
<g transform="rotate(-0.2 973 178)">
<rect x="870.2" y="142.6" width="206.8" height="67.6" rx="0" stroke-width="2.1" fill="#fff"/>
<rect x="873.0" y="145.4" width="201.2" height="62.0" rx="0" stroke-width="1.1" fill="none"/>
<rect x="870.2" y="210.2" width="44.6" height="4.8" rx="0" stroke-width="1.9" fill="#fff"/>
<rect x="1035.0" y="210.2" width="42.0" height="4.8" rx="0" stroke-width="1.9" fill="#fff"/>
<rect x="875.4" y="147.2" width="6.4" height="13.0" rx="0" stroke-width="1.5" fill="#fff"/>
<rect x="1066.2" y="146.0" width="6.2" height="14.2" rx="0" stroke-width="1.5" fill="#fff"/>
<path d="M963.2,160V150.4H986.4V160" stroke-width="2.6" fill="none" />
<line x1="965.0" y1="153.6" x2="985.0" y2="153.6" stroke-width="1.0" />
<rect x="875.2" y="199.2" width="19.0" height="5.6" rx="0" stroke-width="1.5" fill="#fff"/>
<rect x="1053.6" y="199.2" width="18.8" height="5.6" rx="0" stroke-width="1.5" fill="#fff"/>
<rect x="875.9" y="160.2" width="18.3" height="18.2" rx="0" stroke-width="1.8" fill="#fff"/>
<text x="0" y="174.0" font-size="13.5" font-weight="bold" class="b" text-anchor="middle" transform="translate(885.1 0) scale(0.89 1)">10</text>
<rect x="875.9" y="180.0" width="18.3" height="19.0" rx="0" stroke-width="1.8" fill="#fff"/>
<text x="0" y="194.6" font-size="13.5" font-weight="bold" class="b" text-anchor="middle" transform="translate(885.1 0) scale(0.89 1)">20</text>
<rect x="895.6" y="160.2" width="18.3" height="18.2" rx="0" stroke-width="1.8" fill="#fff"/>
<text x="0" y="174.0" font-size="13.5" font-weight="bold" class="b" text-anchor="middle" transform="translate(904.8 0) scale(0.92 1)">9</text>
<rect x="895.6" y="180.0" width="18.3" height="19.0" rx="0" stroke-width="1.8" fill="#fff"/>
<text x="0" y="194.6" font-size="13.5" font-weight="bold" class="b" text-anchor="middle" transform="translate(904.8 0) scale(0.89 1)">19</text>
<rect x="915.3" y="160.2" width="18.3" height="18.2" rx="0" stroke-width="1.8" fill="#fff"/>
<text x="0" y="174.0" font-size="13.5" font-weight="bold" class="b" text-anchor="middle" transform="translate(924.5 0) scale(0.92 1)">8</text>
<rect x="915.3" y="180.0" width="18.3" height="19.0" rx="0" stroke-width="1.8" fill="#fff"/>
<text x="0" y="194.6" font-size="13.5" font-weight="bold" class="b" text-anchor="middle" transform="translate(924.5 0) scale(0.89 1)">18</text>
<rect x="935.1" y="160.2" width="18.3" height="18.2" rx="0" stroke-width="1.8" fill="#fff"/>
<text x="0" y="174.0" font-size="13.5" font-weight="bold" class="b" text-anchor="middle" transform="translate(944.2 0) scale(0.92 1)">7</text>
<rect x="935.1" y="180.0" width="18.3" height="19.0" rx="0" stroke-width="1.8" fill="#fff"/>
<text x="0" y="194.6" font-size="13.5" font-weight="bold" class="b" text-anchor="middle" transform="translate(944.2 0) scale(0.89 1)">17</text>
<rect x="954.8" y="160.2" width="18.3" height="18.2" rx="0" stroke-width="1.8" fill="#fff"/>
<text x="0" y="174.0" font-size="13.5" font-weight="bold" class="b" text-anchor="middle" transform="translate(963.9 0) scale(0.92 1)">6</text>
<rect x="954.8" y="180.0" width="18.3" height="19.0" rx="0" stroke-width="1.8" fill="#fff"/>
<text x="0" y="194.6" font-size="13.5" font-weight="bold" class="b" text-anchor="middle" transform="translate(963.9 0) scale(0.89 1)">16</text>
<rect x="974.5" y="160.2" width="18.3" height="18.2" rx="0" stroke-width="1.8" fill="#fff"/>
<text x="0" y="174.0" font-size="13.5" font-weight="bold" class="b" text-anchor="middle" transform="translate(983.7 0) scale(0.92 1)">5</text>
<rect x="974.5" y="180.0" width="18.3" height="19.0" rx="0" stroke-width="1.8" fill="#fff"/>
<text x="0" y="194.6" font-size="13.5" font-weight="bold" class="b" text-anchor="middle" transform="translate(983.7 0) scale(0.89 1)">15</text>
<rect x="994.2" y="160.2" width="18.3" height="18.2" rx="0" stroke-width="1.8" fill="#fff"/>
<text x="0" y="174.0" font-size="13.5" font-weight="bold" class="b" text-anchor="middle" transform="translate(1003.4 0) scale(0.92 1)">4</text>
<rect x="994.2" y="180.0" width="18.3" height="19.0" rx="0" stroke-width="1.8" fill="#fff"/>
<text x="0" y="194.6" font-size="13.5" font-weight="bold" class="b" text-anchor="middle" transform="translate(1003.4 0) scale(0.89 1)">14</text>
<rect x="1013.9" y="160.2" width="18.3" height="18.2" rx="0" stroke-width="1.8" fill="#fff"/>
<text x="0" y="174.0" font-size="13.5" font-weight="bold" class="b" text-anchor="middle" transform="translate(1023.1 0) scale(0.92 1)">3</text>
<rect x="1013.9" y="180.0" width="18.3" height="19.0" rx="0" stroke-width="1.8" fill="#fff"/>
<text x="0" y="194.6" font-size="13.5" font-weight="bold" class="b" text-anchor="middle" transform="translate(1023.1 0) scale(0.89 1)">13</text>
<rect x="1033.7" y="160.2" width="18.3" height="18.2" rx="0" stroke-width="1.8" fill="#fff"/>
<text x="0" y="174.0" font-size="13.5" font-weight="bold" class="b" text-anchor="middle" transform="translate(1042.8 0) scale(0.92 1)">2</text>
<rect x="1033.7" y="180.0" width="18.3" height="19.0" rx="0" stroke-width="1.8" fill="#fff"/>
<text x="0" y="194.6" font-size="13.5" font-weight="bold" class="b" text-anchor="middle" transform="translate(1042.8 0) scale(0.89 1)">12</text>
<rect x="1053.4" y="160.2" width="18.3" height="18.2" rx="0" stroke-width="1.8" fill="#fff"/>
<text x="0" y="174.0" font-size="13.5" font-weight="bold" class="b" text-anchor="middle" transform="translate(1062.5 0) scale(0.92 1)">1</text>
<rect x="1053.4" y="180.0" width="18.3" height="19.0" rx="0" stroke-width="1.8" fill="#fff"/>
<text x="0" y="194.6" font-size="13.5" font-weight="bold" class="b" text-anchor="middle" transform="translate(1062.5 0) scale(0.89 1)">11</text>
</g>
<text x="890.8" y="248.3" font-size="17.0" font-weight="normal" text-anchor="end" transform="rotate(-0.2 890.8 248.3)" >1.</text>
<text x="898.6" y="248.3" font-size="17.0" font-weight="normal" text-anchor="start" textLength="142.1" lengthAdjust="spacingAndGlyphs" transform="rotate(-0.2 898.6 248.3)" >Power Supply, +B</text>
<text x="890.8" y="267.6" font-size="17.0" font-weight="normal" text-anchor="end" transform="rotate(-0.2 890.8 267.6)" >2.</text>
<text x="898.6" y="267.6" font-size="17.0" font-weight="normal" text-anchor="start" textLength="145.5" lengthAdjust="spacingAndGlyphs" transform="rotate(-0.2 898.6 267.6)" >Power Supply, ILL</text>
<text x="890.8" y="286.8" font-size="17.0" font-weight="normal" text-anchor="end" transform="rotate(-0.2 890.8 286.8)" >3.</text>
<text x="898.6" y="286.8" font-size="17.0" font-weight="normal" text-anchor="start" textLength="133.7" lengthAdjust="spacingAndGlyphs" transform="rotate(-0.2 898.6 286.8)" >Ext. Amp. Power</text>
<text x="890.8" y="306.1" font-size="17.0" font-weight="normal" text-anchor="end" transform="rotate(-0.2 890.8 306.1)" >4.</text>
<text x="890.8" y="325.3" font-size="17.0" font-weight="normal" text-anchor="end" transform="rotate(-0.2 890.8 325.3)" >5.</text>
<text x="898.6" y="325.3" font-size="17.0" font-weight="normal" text-anchor="start" textLength="116.3" lengthAdjust="spacingAndGlyphs" transform="rotate(-0.2 898.6 325.3)" >Shield Ground</text>
<text x="890.8" y="344.6" font-size="17.0" font-weight="normal" text-anchor="end" transform="rotate(-0.2 890.8 344.6)" >6.</text>
<text x="890.8" y="363.9" font-size="17.0" font-weight="normal" text-anchor="end" transform="rotate(-0.2 890.8 363.9)" >7.</text>
<text x="899.8" y="363.9" font-size="17.0" font-weight="normal" text-anchor="start" textLength="40.5" lengthAdjust="spacingAndGlyphs" transform="rotate(-0.2 899.8 363.9)" >Mute</text>
<text x="890.8" y="383.1" font-size="17.0" font-weight="normal" text-anchor="end" transform="rotate(-0.2 890.8 383.1)" >8.</text>
<text x="899.8" y="383.1" font-size="17.0" font-weight="normal" text-anchor="start" textLength="187.5" lengthAdjust="spacingAndGlyphs" transform="rotate(-0.2 899.8 383.1)" >Front Speaker, Right(+)</text>
<text x="890.8" y="402.4" font-size="17.0" font-weight="normal" text-anchor="end" transform="rotate(-0.2 890.8 402.4)" >9.</text>
<text x="899.8" y="402.4" font-size="17.0" font-weight="normal" text-anchor="start" textLength="187.5" lengthAdjust="spacingAndGlyphs" transform="rotate(-0.2 899.8 402.4)" >Front Speaker, Right(–)</text>
<text x="890.8" y="421.6" font-size="17.0" font-weight="normal" text-anchor="end" transform="rotate(-0.2 890.8 421.6)" >10.</text>
<text x="899.8" y="421.6" font-size="17.0" font-weight="normal" text-anchor="start" textLength="115.5" lengthAdjust="spacingAndGlyphs" transform="rotate(-0.2 899.8 421.6)" >Shield Ground</text>
<text x="890.8" y="440.9" font-size="17.0" font-weight="normal" text-anchor="end" transform="rotate(-0.2 890.8 440.9)" >11.</text>
<text x="899.8" y="440.9" font-size="17.0" font-weight="normal" text-anchor="start" textLength="156.9" lengthAdjust="spacingAndGlyphs" transform="rotate(-0.2 899.8 440.9)" >Power Supply, ACC</text>
<text x="890.8" y="460.2" font-size="17.0" font-weight="normal" text-anchor="end" transform="rotate(-0.2 890.8 460.2)" >12.</text>
<text x="899.8" y="460.2" font-size="17.0" font-weight="normal" text-anchor="start" textLength="166.5" lengthAdjust="spacingAndGlyphs" transform="rotate(-0.2 899.8 460.2)" >Power Supply, ILL(–)</text>
<text x="890.8" y="479.4" font-size="17.0" font-weight="normal" text-anchor="end" transform="rotate(-0.2 890.8 479.4)" >13.</text>
<text x="899.8" y="479.4" font-size="17.0" font-weight="normal" text-anchor="start" textLength="164.9" lengthAdjust="spacingAndGlyphs" transform="rotate(-0.2 899.8 479.4)" >Motor Antenna Cont.</text>
<text x="890.8" y="498.7" font-size="17.0" font-weight="normal" text-anchor="end" transform="rotate(-0.2 890.8 498.7)" >14.</text>
<text x="890.8" y="517.9" font-size="17.0" font-weight="normal" text-anchor="end" transform="rotate(-0.2 890.8 517.9)" >15.</text>
<text x="899.8" y="517.9" font-size="17.0" font-weight="normal" text-anchor="start" textLength="119.9" lengthAdjust="spacingAndGlyphs" transform="rotate(-0.2 899.8 517.9)" >No Connection</text>
<text x="890.8" y="537.2" font-size="17.0" font-weight="normal" text-anchor="end" transform="rotate(-0.2 890.8 537.2)" >16.</text>
<text x="899.8" y="537.2" font-size="17.0" font-weight="normal" text-anchor="start" textLength="115.9" lengthAdjust="spacingAndGlyphs" transform="rotate(-0.2 899.8 537.2)" >Signal Ground</text>
<text x="890.8" y="556.5" font-size="17.0" font-weight="normal" text-anchor="end" transform="rotate(-0.2 890.8 556.5)" >17.</text>
<text x="899.8" y="556.5" font-size="17.0" font-weight="normal" text-anchor="start" textLength="43.5" lengthAdjust="spacingAndGlyphs" transform="rotate(-0.2 899.8 556.5)" >Beep</text>
<text x="890.8" y="575.7" font-size="17.0" font-weight="normal" text-anchor="end" transform="rotate(-0.2 890.8 575.7)" >18.</text>
<text x="899.8" y="575.7" font-size="17.0" font-weight="normal" text-anchor="start" textLength="184.9" lengthAdjust="spacingAndGlyphs" transform="rotate(-0.2 899.8 575.7)" >Rear Speaker, Right(+)</text>
<text x="890.8" y="595.0" font-size="17.0" font-weight="normal" text-anchor="end" transform="rotate(-0.2 890.8 595.0)" >19.</text>
<text x="899.8" y="595.0" font-size="17.0" font-weight="normal" text-anchor="start" textLength="172.4" lengthAdjust="spacingAndGlyphs" transform="rotate(-0.2 899.8 595.0)" >Rear Speaker, Left(–)</text>
<text x="890.8" y="614.2" font-size="17.0" font-weight="normal" text-anchor="end" transform="rotate(-0.2 890.8 614.2)" >20.</text>
<text x="899.8" y="614.2" font-size="17.0" font-weight="normal" text-anchor="start" textLength="60.9" lengthAdjust="spacingAndGlyphs" transform="rotate(-0.2 899.8 614.2)" >Ground</text>
</svg>
</body></html>
